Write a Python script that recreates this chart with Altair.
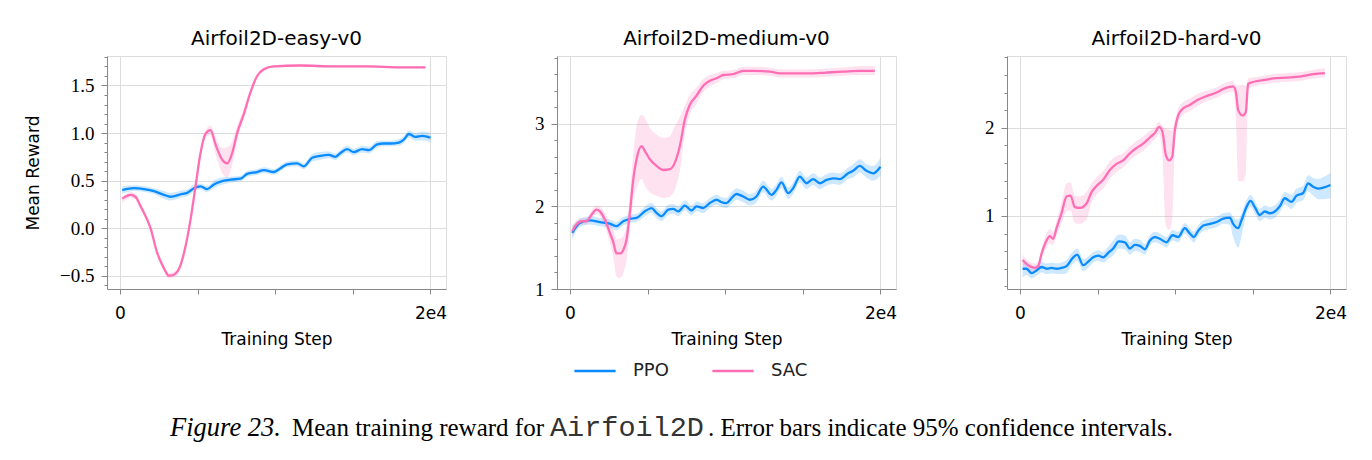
import altair as alt
import pandas as pd

BLUE = "#0a8cff"
PINK = "#ff6eb4"
SANS = "DejaVu Sans"
SERIF = "Liberation Serif"

# ---------------- Airfoil2D-easy-v0 ----------------
easy_ppo_x = [150, 901, 1545, 2189, 2833, 3262, 3584, 4013, 4335, 4764, 5193, 5622, 6052, 6481,
              7124, 7768, 8197, 8841, 9270, 9914, 10343, 10773, 11416, 11845, 12382, 12918, 13455,
              13884, 14206, 14635, 15064, 15601, 16030, 16567, 16996, 17425, 17961, 18283, 18605,
              19034, 19464, 20000]
easy_ppo_mean = [0.40, 0.42, 0.41, 0.39, 0.35, 0.33, 0.34, 0.36, 0.37, 0.42, 0.44, 0.41, 0.46, 0.49,
                 0.51, 0.52, 0.57, 0.59, 0.61, 0.59, 0.63, 0.67, 0.68, 0.65, 0.74, 0.76, 0.77,
                 0.75, 0.79, 0.83, 0.80, 0.83, 0.82, 0.88, 0.89, 0.89, 0.90, 0.93, 0.99,
                 0.96, 0.97, 0.95]
easy_ppo_ci = [0.04, 0.03, 0.03, 0.03, 0.04, 0.04, 0.04, 0.035, 0.035, 0.035, 0.03, 0.03, 0.04, 0.04,
               0.03, 0.03, 0.03, 0.03, 0.03, 0.03, 0.03, 0.03, 0.03, 0.03, 0.04, 0.04, 0.035,
               0.035, 0.035, 0.035, 0.035, 0.035, 0.035, 0.035, 0.03, 0.03, 0.035, 0.035, 0.04,
               0.04, 0.045, 0.05]

easy_sac_x = [150, 687, 1000, 1331, 1974, 2404, 2833, 3155, 3477, 3906, 4228, 4550, 4871, 5193,
              5515, 5837, 6159, 6588, 6910, 7232, 7554, 7983, 8412, 8841, 9270, 9914, 11631,
              13777, 15923, 18069, 19678]
easy_sac_mean = [0.31, 0.35, 0.33, 0.23, 0.00, -0.26, -0.42, -0.50, -0.49, -0.39, -0.19, 0.09, 0.44, 0.79,
                 0.99, 1.03, 0.88, 0.72, 0.68, 0.79, 1.00, 1.20, 1.43, 1.60, 1.67, 1.70, 1.71,
                 1.70, 1.70, 1.69, 1.69]
easy_sac_lo = [0.05, 0.03, 0.03, 0.03, 0.03, 0.03, 0.03, 0.03, 0.03, 0.03, 0.03, 0.03, 0.03, 0.04,
               0.04, 0.05, 0.10, 0.14, 0.15, 0.12, 0.08, 0.05, 0.03, 0.02, 0.02, 0.01, 0.01,
               0.01, 0.01, 0.01, 0.01]
easy_sac_hi = [0.02, 0.03, 0.03, 0.03, 0.03, 0.03, 0.03, 0.03, 0.03, 0.03, 0.03, 0.03, 0.03, 0.04,
               0.04, 0.05, 0.08, 0.12, 0.17, 0.12, 0.08, 0.05, 0.03, 0.02, 0.02, 0.01, 0.01,
               0.01, 0.01, 0.01, 0.01]

# ---------------- Airfoil2D-medium-v0 ----------------
med_ppo_x = [150, 644, 1288, 1931, 2575, 3004, 3433, 3863, 4292, 4828, 5258, 5579, 5901, 6330, 6652,
             6974, 7403, 7833, 8155, 8584, 9013, 9442, 9764, 10086, 10408, 10730, 11159, 11588,
             12017, 12446, 12983, 13305, 13627, 14056, 14378, 14807, 15236, 15665, 16094, 16524,
             16953, 17382, 17918, 18240, 18670, 19099, 19528, 20000]
med_ppo_mean = [1.68, 1.80, 1.83, 1.81, 1.79, 1.76, 1.82, 1.85, 1.86, 1.94, 1.98, 1.92, 1.88, 1.96, 1.97,
                1.94, 2.01, 1.95, 2.00, 1.98, 2.04, 2.08, 2.05, 2.04, 2.10, 2.15, 2.12, 2.08,
                2.12, 2.24, 2.14, 2.20, 2.29, 2.16, 2.22, 2.36, 2.28, 2.33, 2.28, 2.32,
                2.34, 2.33, 2.40, 2.43, 2.49, 2.43, 2.40, 2.48]
med_ppo_ci = [0.08, 0.05, 0.05, 0.05, 0.05, 0.05, 0.05, 0.05, 0.05, 0.06, 0.06, 0.06, 0.06, 0.06, 0.06,
              0.06, 0.06, 0.06, 0.06, 0.06, 0.06, 0.06, 0.06, 0.06, 0.07, 0.07, 0.07, 0.07,
              0.07, 0.07, 0.07, 0.07, 0.07, 0.07, 0.07, 0.07, 0.07, 0.07, 0.07, 0.07,
              0.07, 0.07, 0.07, 0.08, 0.08, 0.08, 0.09, 0.11]

med_sac_x = [150, 429, 751, 1073, 1395, 1717, 1931, 2253, 2575, 2790, 3004, 3219, 3433, 3648, 3863,
             4077, 4292, 4614, 4828, 5150, 5579, 6009, 6438, 6760, 7082, 7403, 7725, 8155, 8584,
             9013, 9442, 9871, 10515, 11159, 11803, 12876, 13519, 14378, 15451, 16524, 17597,
             18670, 19635]
med_sac_mean = [1.70, 1.78, 1.82, 1.82, 1.90, 1.96, 1.94, 1.84, 1.68, 1.57, 1.43, 1.43, 1.47, 1.60, 1.92,
                2.32, 2.57, 2.73, 2.67, 2.57, 2.49, 2.44, 2.45, 2.53, 2.73, 3.05, 3.23, 3.34, 3.46,
                3.52, 3.55, 3.59, 3.60, 3.64, 3.64, 3.63, 3.61, 3.61, 3.61, 3.62, 3.63,
                3.64, 3.64]
med_sac_lo = [0.06, 0.05, 0.04, 0.04, 0.05, 0.05, 0.06, 0.08, 0.12, 0.18, 0.28, 0.30, 0.28, 0.25, 0.22,
              0.25, 0.35, 0.40, 0.42, 0.40, 0.36, 0.34, 0.33, 0.33, 0.30, 0.17, 0.12, 0.10, 0.08,
              0.07, 0.06, 0.05, 0.05, 0.05, 0.05, 0.05, 0.05, 0.05, 0.05, 0.05, 0.05,
              0.05, 0.05]
med_sac_hi = [0.06, 0.05, 0.04, 0.04, 0.05, 0.05, 0.06, 0.08, 0.12, 0.15, 0.17, 0.18, 0.17, 0.18, 0.22,
              0.30, 0.40, 0.38, 0.40, 0.38, 0.38, 0.39, 0.40, 0.44, 0.35, 0.17, 0.12, 0.10, 0.08,
              0.07, 0.06, 0.05, 0.05, 0.05, 0.05, 0.05, 0.05, 0.05, 0.05, 0.05, 0.05,
              0.06, 0.06]

# ---------------- Airfoil2D-hard-v0 ----------------
hard_ppo_x = [172, 429, 751, 1073, 1395, 1717, 2039, 2361, 2682, 3004, 3391, 3691, 4077, 4399, 4721,
              5043, 5365, 5687, 6009, 6373, 6760, 7082, 7403, 7725, 8047, 8369, 8691, 9013, 9442,
              9828, 10193, 10622, 10944, 11202, 11480, 11803, 12232, 12661, 13090, 13519, 13734,
              14056, 14270, 14592, 14850, 15129, 15450, 15772, 16094, 16416, 16738, 17060, 17489,
              17811, 18240, 18562, 18884, 19206, 19528, 20000]
hard_ppo_mean = [0.40, 0.40, 0.35, 0.38, 0.42, 0.40, 0.41, 0.40, 0.41, 0.43, 0.52, 0.56, 0.44, 0.48, 0.53,
                 0.55, 0.53, 0.58, 0.63, 0.71, 0.70, 0.63, 0.67, 0.66, 0.62, 0.72, 0.76, 0.74, 0.70,
                 0.78, 0.76, 0.86, 0.80, 0.76, 0.83, 0.89, 0.91, 0.93, 0.97, 0.98, 0.91,
                 0.86, 0.95, 1.10, 1.17, 1.10, 1.01, 1.05, 1.03, 1.05, 1.11, 1.20, 1.16,
                 1.23, 1.26, 1.37, 1.33, 1.31, 1.32, 1.35]
hard_ppo_lo = [0.10, 0.07, 0.06, 0.06, 0.06, 0.06, 0.06, 0.06, 0.07, 0.08, 0.07, 0.07, 0.07, 0.07, 0.06,
               0.06, 0.06, 0.07, 0.08, 0.08, 0.08, 0.07, 0.07, 0.07, 0.06, 0.06, 0.06, 0.06, 0.06,
               0.06, 0.06, 0.06, 0.06, 0.06, 0.06, 0.06, 0.06, 0.06, 0.06, 0.08, 0.15,
               0.22, 0.18, 0.08, 0.07, 0.07, 0.07, 0.07, 0.07, 0.07, 0.07, 0.07, 0.08,
               0.08, 0.08, 0.09, 0.10, 0.12, 0.13, 0.15]
hard_ppo_hi = [0.07, 0.06, 0.06, 0.06, 0.06, 0.06, 0.06, 0.06, 0.06, 0.07, 0.07, 0.07, 0.07, 0.06, 0.06,
               0.06, 0.06, 0.07, 0.09, 0.08, 0.08, 0.07, 0.07, 0.07, 0.06, 0.06, 0.06, 0.06, 0.06,
               0.06, 0.06, 0.06, 0.06, 0.06, 0.06, 0.06, 0.06, 0.06, 0.06, 0.06, 0.08,
               0.10, 0.08, 0.08, 0.07, 0.07, 0.07, 0.07, 0.07, 0.07, 0.07, 0.07, 0.08,
               0.08, 0.08, 0.09, 0.10, 0.11, 0.12, 0.14]

hard_sac_x = [172, 536, 966, 1180, 1395, 1717, 1931, 2146, 2361, 2682, 3004, 3262, 3541, 3863, 4292,
              4614, 4936, 5365, 5794, 6223, 6652, 7082, 7511, 7940, 8369, 8691, 8970, 9184, 9399,
              9614, 9807, 9979, 10193, 10515, 10944, 11373, 12017, 12661, 13090, 13734, 13906,
              14056, 14335, 14549, 14700, 15021, 15665, 16309, 17167, 18026, 18884, 19635]
hard_sac_mean = [0.50, 0.44, 0.41, 0.43, 0.57, 0.72, 0.77, 0.74, 0.86, 1.03, 1.22, 1.23, 1.10, 1.09, 1.14,
                 1.27, 1.34, 1.41, 1.52, 1.59, 1.63, 1.71, 1.77, 1.82, 1.89, 1.94, 2.01, 1.95, 1.69,
                 1.63, 1.67, 1.97, 2.14, 2.22, 2.26, 2.31, 2.36, 2.40, 2.44, 2.47, 2.41,
                 2.20, 2.14, 2.18, 2.50, 2.52, 2.54, 2.56, 2.57, 2.58, 2.61, 2.62]
hard_sac_lo = [0.06, 0.05, 0.05, 0.05, 0.06, 0.08, 0.08, 0.07, 0.08, 0.12, 0.17, 0.17, 0.18, 0.18, 0.18,
               0.12, 0.10, 0.10, 0.10, 0.09, 0.08, 0.08, 0.08, 0.08, 0.08, 0.07, 0.08, 0.30, 0.80,
               0.79, 0.70, 0.20, 0.08, 0.07, 0.07, 0.07, 0.06, 0.06, 0.06, 0.06, 0.30,
               0.80, 0.75, 0.70, 0.06, 0.05, 0.05, 0.05, 0.05, 0.05, 0.05, 0.05]
hard_sac_hi = [0.06, 0.05, 0.05, 0.05, 0.06, 0.08, 0.08, 0.07, 0.08, 0.12, 0.15, 0.15, 0.13, 0.13, 0.13,
               0.10, 0.10, 0.10, 0.10, 0.09, 0.08, 0.08, 0.08, 0.08, 0.08, 0.07, 0.06, 0.07, 0.30,
               0.35, 0.30, 0.10, 0.08, 0.07, 0.07, 0.07, 0.06, 0.06, 0.06, 0.06, 0.06,
               0.28, 0.35, 0.30, 0.06, 0.05, 0.05, 0.05, 0.05, 0.05, 0.05, 0.06]

# axis ticks
x_ticks = [0, 5000, 10000, 15000, 20000]
easy_major = [-0.5, 0.0, 0.5, 1.0, 1.5]
easy_minor = [round(-0.6 + 0.1 * i, 1) for i in range(25)]
med_major = [1, 2, 3]
med_minor = [round(1.0 + 0.2 * i, 1) for i in range(15)]
hard_major = [1, 2]
hard_minor = [round(0.2 + 0.2 * i, 1) for i in range(14)]

titles = ["Airfoil2D-easy-v0", "Airfoil2D-medium-v0", "Airfoil2D-hard-v0"]
algos = ["PPO", "SAC"]
colors = [BLUE, PINK]

W, H = 339, 233
X_DOMAIN = [-830, 21000]


def frame(algo, xs, mean, lo, hi):
    return pd.DataFrame({
        "step": xs,
        "mean": mean,
        "lo": [m - d for m, d in zip(mean, lo)],
        "hi": [m + d for m, d in zip(mean, hi)],
        "algo": algo,
        "band": algo + " CI",
    })


def panel(title, df, ydom, major, minor, fmt, ytitle):
    base = alt.Chart(df)
    yscale = alt.Scale(domain=ydom, nice=False, zero=False)
    x_enc = alt.X(
        "step:Q",
        scale=alt.Scale(domain=X_DOMAIN, nice=False, zero=False),
        axis=alt.Axis(
            values=x_ticks,
            labelExpr="datum.value == 0 ? '0' : (datum.value == 20000 ? '2e4' : '')",
            title="Training Step",
            grid=True,
            gridOpacity={"condition": {"test": "datum.value % 20000 === 0", "value": 1}, "value": 0},
            labelFont=SANS, labelFontSize=17, labelPadding=11,
            titleFont=SANS, titleFontSize=17, titleFontWeight="normal", titlePadding=10,
            tickSize=5,
        ),
    )
    band = base.mark_area(opacity=0.2, interpolate="monotone").encode(
        x=x_enc,
        y=alt.Y("lo:Q", scale=yscale, stack=None,
                axis=alt.Axis(values=minor, labels=False, tickSize=3, grid=False, domain=False,
                              title=None, orient="left")),
        y2="hi:Q",
        fill=alt.Fill("band:N", scale=alt.Scale(domain=[a + " CI" for a in algos], range=colors),
                      legend=None),
    )
    legend = alt.Legend(
        orient="none", legendX=466, legendY=293, direction="horizontal", title=None,
        symbolType="stroke", symbolSize=1700, symbolStrokeWidth=2.6, labelFont=SANS,
        labelFontSize=18, labelOffset=16, columnPadding=38, labelColor="#222",
    )
    line = base.mark_line(strokeWidth=2.3, interpolate="monotone").encode(
        x=x_enc,
        y=alt.Y("mean:Q", scale=yscale,
                axis=alt.Axis(values=major, format=fmt, tickSize=6, grid=True,
                              labelFont=SERIF, labelFontSize=19, labelPadding=7,
                              title=ytitle if ytitle else None, titleFont=SANS, titleFontSize=17,
                              titleFontWeight="normal", titlePadding=17, orient="left")),
        stroke=alt.Stroke("algo:N", scale=alt.Scale(domain=algos, range=colors), legend=legend),
    )
    return alt.layer(band, line).resolve_axis(y="independent").properties(
        width=W, height=H,
        title=alt.TitleParams(title, font=SANS, fontSize=20, fontWeight="normal", offset=7),
    )


easy_df = pd.concat([frame("PPO", easy_ppo_x, easy_ppo_mean, easy_ppo_ci, easy_ppo_ci),
                     frame("SAC", easy_sac_x, easy_sac_mean, easy_sac_lo, easy_sac_hi)])
med_df = pd.concat([frame("PPO", med_ppo_x, med_ppo_mean, med_ppo_ci, med_ppo_ci),
                    frame("SAC", med_sac_x, med_sac_mean, med_sac_lo, med_sac_hi)])
hard_df = pd.concat([frame("PPO", hard_ppo_x, hard_ppo_mean, hard_ppo_lo, hard_ppo_hi),
                     frame("SAC", hard_sac_x, hard_sac_mean, hard_sac_lo, hard_sac_hi)])

p1 = panel(titles[0], easy_df, [-0.64, 1.81], easy_major, easy_minor, ".1f", "Mean Reward")
p2 = panel(titles[1], med_df, [1.0, 3.82], med_major, med_minor, "d", None)
p3 = panel(titles[2], hard_df, [0.17, 2.815], hard_major, hard_minor, "d", None)

# caption (mixed fonts) as text marks under the middle panel
cap_parts = ["Figure 23.", "Mean training reward for", "Airfoil2D",
             ". Error bars indicate 95% confidence intervals."]
cap_y = 380


def cap(text, x, font, style="normal", size=25, color="black"):
    return alt.Chart(pd.DataFrame({"t": [text]})).mark_text(
        align="left", baseline="alphabetic", font=font, fontSize=size, fontStyle=style, color=color
    ).encode(text="t:N", x=alt.value(x), y=alt.value(cap_y))


caption = alt.layer(
    cap(cap_parts[0], -387, SERIF, "italic", size=26.5),
    cap(cap_parts[1], -265, SERIF),
    cap(cap_parts[2], -7, "Liberation Mono", size=28.5, color="#333"),
    cap(cap_parts[3], 151, SERIF),
)

p2 = alt.layer(p2, caption).properties(width=W, height=H)

chart = alt.hconcat(p1, p2, p3, spacing=111, bounds="flush").resolve_scale(stroke="shared").properties(
    padding={"left": 24, "top": 28, "right": 5, "bottom": 5}
).configure_view(stroke="black", strokeWidth=1.2).configure_axis(
    domainColor="black", tickColor="black", gridColor="#cfcfcf", gridWidth=1.2,
    labelColor="black", titleColor="#222", domainWidth=1.2, tickWidth=1.2,
).configure(background="white")

chart.save("out.html", embed_options={"renderer": "svg", "actions": False})
